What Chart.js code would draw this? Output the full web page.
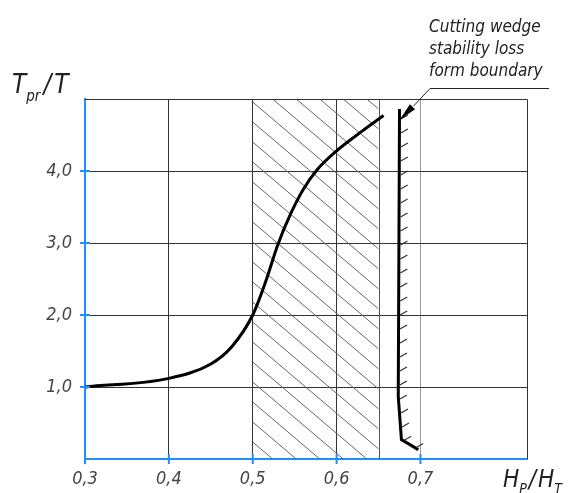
<!DOCTYPE html>
<html>
<head>
<meta charset="utf-8">
<script src="https://cdn.jsdelivr.net/npm/chart.js@4/dist/chart.umd.min.js"></script>
<style>
  body { margin: 0; background: #fff; }
  canvas { display: block; }
</style>
</head>
<body>
<canvas id="stab" width="568" height="493"></canvas>
<script>
// ratio H_p/H_T vs tool life ratio T_pr/T
var curveX = [0.3, 0.4, 0.45, 0.475, 0.5, 0.515, 0.53, 0.545, 0.56, 0.577, 0.6, 0.63, 0.656];
var curveY = [1.0, 1.12, 1.32, 1.56, 2.0, 2.45, 2.98, 3.40, 3.74, 4.02, 4.28, 4.55, 4.77];

// cutting wedge stability loss form boundary
var boundX = [0.675, 0.6735, 0.6773, 0.6973];
var boundY = [4.86, 0.87, 0.27, 0.13];

// hatched zone
var zoneFrom = 0.5;
var zoneTo = 0.65;

var xTicks = [0.3, 0.4, 0.5, 0.6, 0.7];
var yTicks = [1, 2, 3, 4];
var xMin = 0.3, xMax = 0.827, yMin = 0, yMax = 5;

var noteLines = ["Cutting wedge", "stability loss", "form boundary"];

var FONT = "'DejaVu Sans Condensed', 'Liberation Sans Narrow', sans-serif";
var BLUE = '#1e8fff';

function pts(xs, ys) {
  return xs.map(function (x, i) { return { x: x, y: ys[i] }; });
}

function comma(v) {
  return Number(v).toFixed(1).replace('.', ',');
}

// draws text like T_pr with subscripts, parts = [[text, size, dy, gap], ...]
function drawParts(ctx, parts, x, base) {
  parts.forEach(function (p) {
    ctx.font = 'italic ' + p[1] + 'px ' + FONT;
    ctx.fillText(p[0], x, base + p[2]);
    x += ctx.measureText(p[0]).width + (p[3] || 0);
  });
}

var decor = {
  id: 'decor',
  beforeDatasetsDraw: function (chart) {
    var ctx = chart.ctx, a = chart.chartArea;
    var xs = chart.scales.x;
    var x0 = xs.getPixelForValue(zoneFrom), x1 = xs.getPixelForValue(zoneTo);
    ctx.save();
    ctx.beginPath();
    ctx.rect(x0, a.top, x1 - x0, a.bottom - a.top);
    ctx.clip();
    ctx.strokeStyle = '#666';
    ctx.lineWidth = 1;
    var k = 0.85, step = 20;
    for (var y = a.top - (x1 - x0) * k - 10; y < a.bottom + 5; y += step) {
      ctx.beginPath();
      ctx.moveTo(x0, y);
      ctx.lineTo(x1, y + (x1 - x0) * k);
      ctx.stroke();
    }
    ctx.restore();

    ctx.save();
    ctx.strokeStyle = '#555';
    ctx.lineWidth = 1;
    ctx.beginPath();
    ctx.moveTo(Math.round(x1) + 0.5, a.top);
    ctx.lineTo(Math.round(x1) + 0.5, a.bottom);
    ctx.stroke();
    ctx.strokeStyle = '#333';
    ctx.beginPath();
    ctx.moveTo(a.left, Math.round(a.top) + 0.5);
    ctx.lineTo(Math.round(a.right) + 0.5, Math.round(a.top) + 0.5);
    ctx.lineTo(Math.round(a.right) + 0.5, a.bottom);
    ctx.stroke();
    ctx.restore();
  },
  afterDraw: function (chart) {
    var ctx = chart.ctx, a = chart.chartArea;
    var xs = chart.scales.x, ys = chart.scales.y;
    ctx.save();

    // short strokes on the stable side of the boundary
    var p = [];
    for (var n = 0; n < boundX.length; n++) {
      p.push([xs.getPixelForValue(boundX[n]), ys.getPixelForValue(boundY[n])]);
    }
    ctx.strokeStyle = '#333';
    ctx.lineWidth = 1.2;
    var gap = 14;
    var off = 10;
    for (var i = 0; i < p.length - 1; i++) {
      var ddx = p[i + 1][0] - p[i][0], ddy = p[i + 1][1] - p[i][1];
      var len = Math.sqrt(ddx * ddx + ddy * ddy);
      while (off < len) {
        var hx = p[i][0] + ddx * off / len, hy = p[i][1] + ddy * off / len;
        ctx.beginPath();
        ctx.moveTo(hx + 1.5, hy);
        ctx.lineTo(hx + 8.5, hy - 4);
        ctx.stroke();
        off += gap;
      }
      off -= len;
    }

    // leader with arrow to the boundary
    var tipX = p[0][0], tipY = p[0][1] + 11;
    var kneeX = 430, kneeY = 88.5;
    ctx.strokeStyle = '#222';
    ctx.lineWidth = 1;
    ctx.beginPath();
    ctx.moveTo(549, kneeY);
    ctx.lineTo(kneeX, kneeY);
    ctx.lineTo(tipX + 14, tipY - 14);
    ctx.stroke();
    var ang = Math.atan2(tipY - kneeY, tipX - kneeX);
    ctx.fillStyle = '#000';
    ctx.beginPath();
    ctx.moveTo(tipX, tipY);
    ctx.lineTo(tipX - 19 * Math.cos(ang - 0.19), tipY - 19 * Math.sin(ang - 0.19));
    ctx.lineTo(tipX - 19 * Math.cos(ang + 0.19), tipY - 19 * Math.sin(ang + 0.19));
    ctx.closePath();
    ctx.fill();

    // blue tick marks across the axes
    ctx.strokeStyle = BLUE;
    ctx.lineWidth = 2;
    xTicks.forEach(function (v) {
      var x = xs.getPixelForValue(v);
      ctx.beginPath();
      ctx.moveTo(x, a.bottom - 5);
      ctx.lineTo(x, a.bottom + 5);
      ctx.stroke();
    });
    yTicks.forEach(function (v) {
      var y = ys.getPixelForValue(v);
      ctx.beginPath();
      ctx.moveTo(a.left - 5, y);
      ctx.lineTo(a.left + 5, y);
      ctx.stroke();
    });

    // texts
    ctx.fillStyle = '#222';
    ctx.textBaseline = 'alphabetic';
    ctx.textAlign = 'left';
    ctx.font = 'italic 17px ' + FONT;
    noteLines.forEach(function (t, j) {
      ctx.fillText(t, 429, 32 + j * 22);
    });
    drawParts(ctx, [['T', 26, 0, 0], ['pr', 15, 8, 3], ['/', 26, 0, 3], ['T', 26, 0]], 12, 93);
    drawParts(ctx, [['H', 24, 0, 0], ['P', 14, 6, 2], ['/', 24, 0, 2], ['H', 24, 0, 0], ['T', 14, 6]], 503, 487);
    ctx.restore();
  }
};

new Chart(document.getElementById('stab').getContext('2d'), {
  type: 'scatter',
  data: {
    datasets: [{
      data: pts(curveX, curveY),
      showLine: true,
      borderColor: '#000',
      borderWidth: 3,
      pointRadius: 0,
      cubicInterpolationMode: 'monotone'
    }, {
      data: pts(boundX, boundY),
      showLine: true,
      borderColor: '#000',
      borderWidth: 3,
      pointRadius: 0,
      tension: 0
    }]
  },
  options: {
    responsive: false,
    animation: false,
    layout: { padding: { left: 0, top: 99, right: 41, bottom: 0 } },
    plugins: { legend: { display: false }, tooltip: { enabled: false } },
    scales: {
      x: {
        type: 'linear',
        min: xMin,
        max: xMax,
        afterBuildTicks: function (s) { s.ticks = xTicks.map(function (v) { return { value: v }; }); },
        afterFit: function (s) { s.height = 34; },
        border: { color: BLUE, width: 2 },
        grid: {
          drawTicks: false,
          lineWidth: 1,
          color: function (c) { return c.tick && c.tick.value === 0.7 ? '#999' : '#333'; }
        },
        ticks: {
          padding: 10,
          color: '#444',
          font: { family: FONT, size: 18, style: 'italic' },
          callback: function (v) { return comma(v); }
        }
      },
      y: {
        type: 'linear',
        min: yMin,
        max: yMax,
        afterBuildTicks: function (s) { s.ticks = yTicks.map(function (v) { return { value: v }; }); },
        afterFit: function (s) { s.width = 85; },
        border: { color: BLUE, width: 2 },
        grid: { drawTicks: false, lineWidth: 1, color: '#333' },
        ticks: {
          padding: 13,
          color: '#444',
          font: { family: FONT, size: 18, style: 'italic' },
          callback: function (v) { return comma(v); }
        }
      }
    }
  },
  plugins: [decor]
});
</script>
</body>
</html>
